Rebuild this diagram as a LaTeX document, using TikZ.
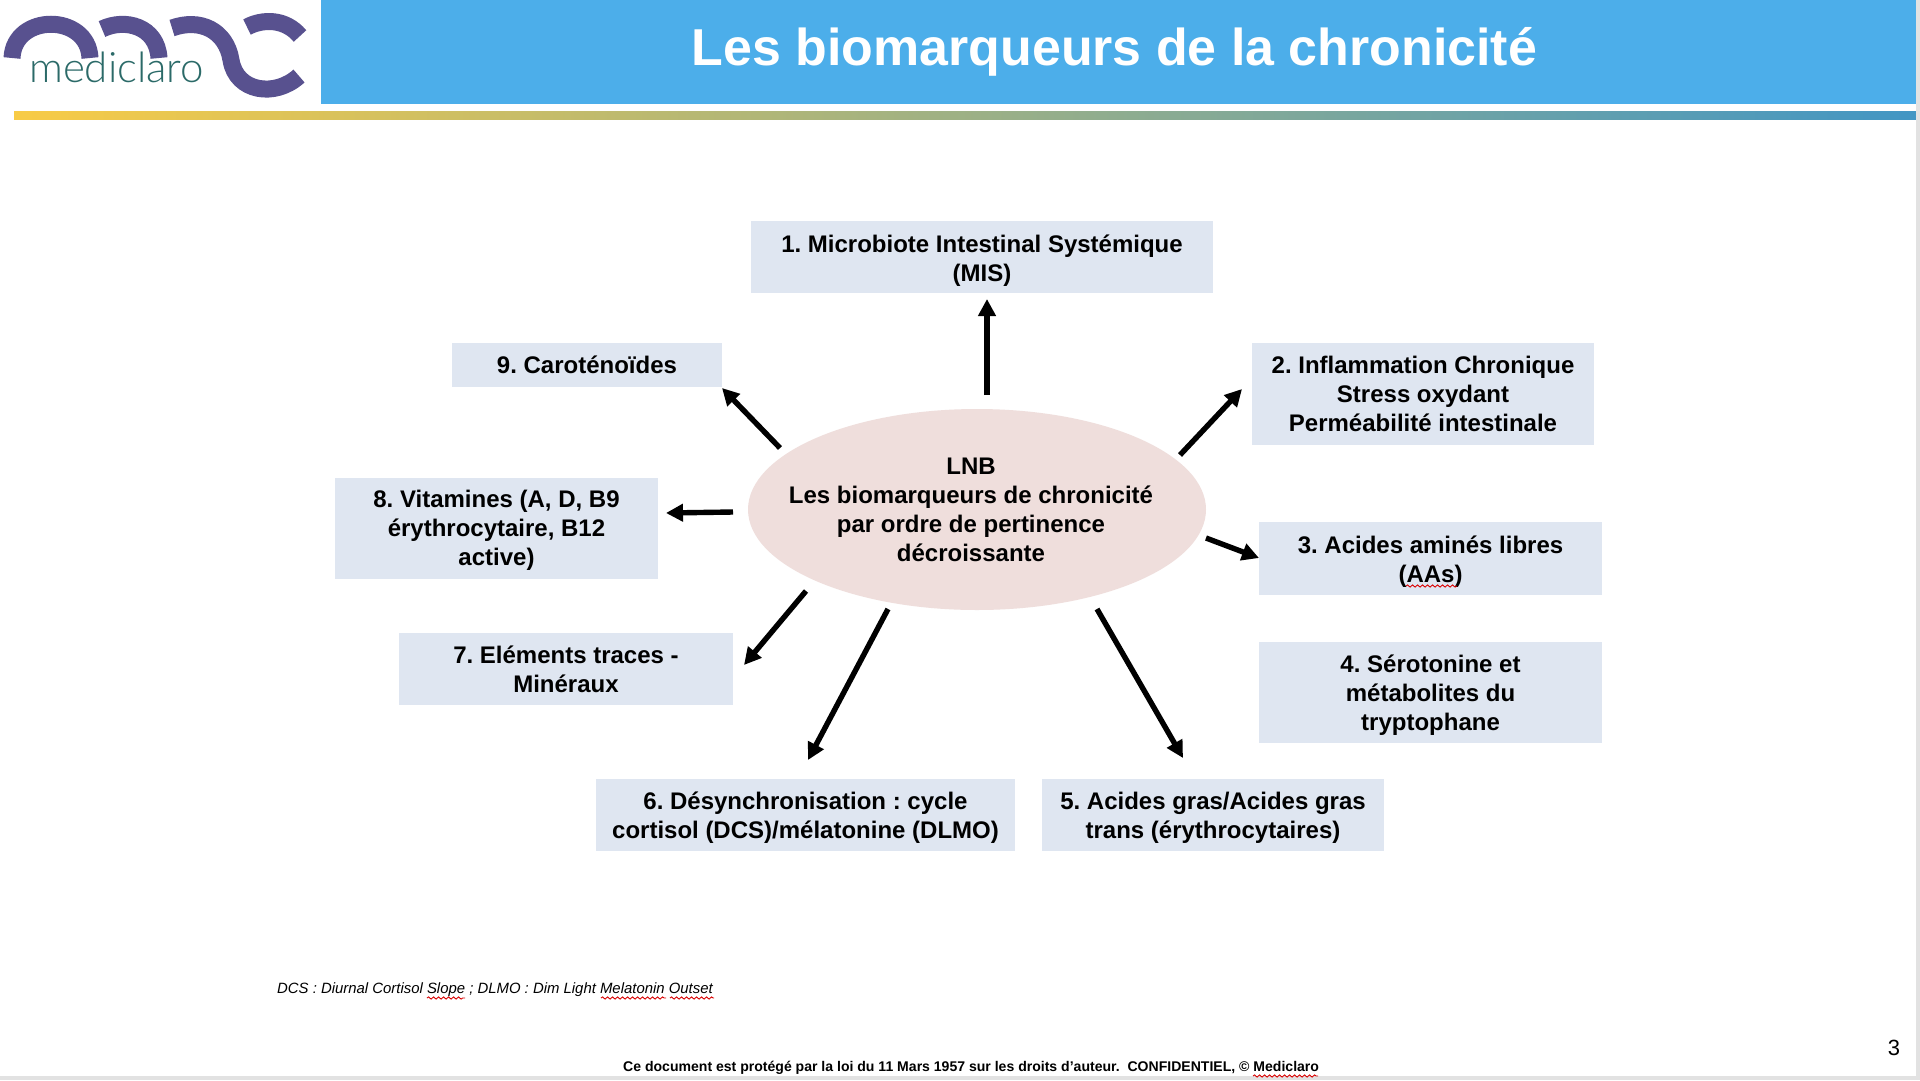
\documentclass[tikz,border=0pt]{standalone}
\usepackage{fontspec}
\setmainfont{Liberation Sans}
\newfontfamily\logofont{Lato Light}
\usetikzlibrary{arrows.meta,shapes.geometric,decorations.pathmorphing}
\definecolor{hdr}{HTML}{4CAEEA}
\definecolor{boxfill}{HTML}{DFE6F1}
\definecolor{ellfill}{HTML}{EFDEDC}
\definecolor{logop}{HTML}{58518F}
\definecolor{logot}{HTML}{2B6A68}
\definecolor{barY}{HTML}{F8CB46}
\definecolor{barB}{HTML}{4296C4}
\definecolor{edge}{HTML}{E2E2E2}
\frenchspacing
\tikzset{
  x=1pt,y=-1pt,
  bx/.style={rectangle,fill=boxfill,inner sep=0pt,align=center,text=black,
    font=\fontsize{24}{29}\selectfont\bfseries},
  arw/.style={-{Triangle[length=17pt,width=17pt]},line width=5.4pt,black},
  squig/.style={red!85!black,line width=0.9pt,decorate,decoration={snake,amplitude=1.1pt,segment length=5pt}},
  logoarc/.style={logop,line width=17pt,line cap=butt}
}
\begin{document}
\begin{tikzpicture}
\useasboundingbox (0,0) rectangle (1920,1080);
\fill[white] (0,0) rectangle (1920,1080);
% header
\fill[hdr] (321,0) rectangle (1916,104);
\shade[left color=barY,right color=barB] (14,111) rectangle (1916,119);
\fill[edge] (1916,0) rectangle (1920,1080);
\fill[edge] (0,1076) rectangle (1920,1080);
\node[anchor=base,text=white,inner sep=0pt,font=\fontsize{51.9}{60}\selectfont\bfseries] (title) at (1114.5,65) {Les biomarqueurs de la chronicité};
% logo
\draw[logoarc] (12,58) .. controls (14,13) and (88,13) .. (90,58);
\draw[logoarc] (102,29) .. controls (125,18) and (157,26) .. (159,58);
\draw[logoarc] (172,28) .. controls (200,18) and (226,30) .. (231,60) .. controls (236,92) and (275,98) .. (299,76);
\draw[logoarc] (247,27) .. controls (262,19) and (285,18) .. (300,36);
\node[anchor=base west,inner sep=0pt,text=logot,font=\logofont\fontsize{42}{42}\selectfont] (logotext) at (29,82) {mediclaro};
% ellipse
\node[ellipse,fill=ellfill,minimum width=458pt,minimum height=201pt,inner sep=0pt] (lnb) at (977,509.5) {};
\node[inner sep=0pt,align=center,font=\fontsize{24}{29}\selectfont\bfseries] (lnbtext) at (971,509.5) {LNB\\Les biomarqueurs de chronicité\\par ordre de pertinence\\décroissante};
% boxes
\node[bx,minimum width=462pt,minimum height=72pt] (b1) at (982,257) {\rule{0pt}{24pt}1. Microbiote Intestinal Systémique\\(MIS)};
\node[bx,minimum width=342pt,minimum height=102pt] (b2) at (1423,394) {2. Inflammation Chronique\\Stress oxydant\\Perméabilité intestinale};
\node[bx,minimum width=343pt,minimum height=73pt] (b3) at (1430.5,558.5) {\rule{0pt}{23pt}3. Acides aminés libres\\(AAs)};
\node[bx,minimum width=343pt,minimum height=101pt] (b4) at (1430.5,692.5) {\rule{0pt}{23pt}4. Sérotonine et\\métabolites du\\tryptophane};
\node[bx,minimum width=342pt,minimum height=72pt] (b5) at (1213,815) {\rule{0pt}{23pt}5. Acides gras/Acides gras\\trans (érythrocytaires)};
\node[bx,minimum width=419pt,minimum height=72pt] (b6) at (805.5,815) {\rule{0pt}{23pt}6. Désynchronisation : cycle\\cortisol (DCS)/mélatonine (DLMO)};
\node[bx,minimum width=334pt,minimum height=72pt] (b7) at (566,669) {7. Eléments traces -\\Minéraux};
\node[bx,minimum width=323pt,minimum height=101pt] (b8) at (496.5,528.5) {\rule{0pt}{20pt}8. Vitamines (A, D, B9\\érythrocytaire, B12\\active)};
\node[bx,minimum width=270pt,minimum height=44pt] (b9) at (587,365) {9. Caroténoïdes};
% arrow ends
\coordinate (a1s) at (987,395); \coordinate (a1e) at (987,299);
\coordinate (a2s) at (1180,455); \coordinate (a2e) at (1242,389);
\coordinate (a3s) at (1206,538); \coordinate (a3e) at (1259,558);
\coordinate (a5s) at (1097,609); \coordinate (a5e) at (1183,758);
\coordinate (a6s) at (888,609); \coordinate (a6e) at (808,760);
\coordinate (a7s) at (806,591); \coordinate (a7e) at (744,665);
\coordinate (a8s) at (733,512); \coordinate (a8e) at (666,513);
\coordinate (a9s) at (780,448); \coordinate (a9e) at (722,388);
\foreach \n in {1,2,3,5,6,7,8,9} \draw[arw] (a\n s) -- (a\n e);
% footnotes
\node[anchor=base west,inner sep=0pt,font=\fontsize{14.9}{18}\selectfont\itshape] (note) at (277,993) {DCS : Diurnal Cortisol Slope ; DLMO : Dim Light Melatonin Outset};
\node[anchor=base west,inner sep=0pt,font=\fontsize{14.05}{18}\selectfont\bfseries] (foot) at (623,1071) {Ce document est protégé par la loi du 11 Mars 1957 sur les droits d’auteur.\ \ CONFIDENTIEL, © Mediclaro};
\node[anchor=base,inner sep=0pt,font=\fontsize{22}{26}\selectfont] (pg) at (1894,1055) {3};
% spell-check underlines
\coordinate (s1a) at (427,998); \coordinate (s1b) at (465,998);
\coordinate (s2a) at (601,998); \coordinate (s2b) at (666,998);
\coordinate (s3a) at (670,998); \coordinate (s3b) at (714,998);
\coordinate (s4a) at (1253,1076); \coordinate (s4b) at (1318,1076);
\coordinate (s5a) at (1406,586); \coordinate (s5b) at (1457,586);
\foreach \n in {1,...,5} \draw[squig] (s\n a) -- (s\n b);
\end{tikzpicture}
\end{document}
